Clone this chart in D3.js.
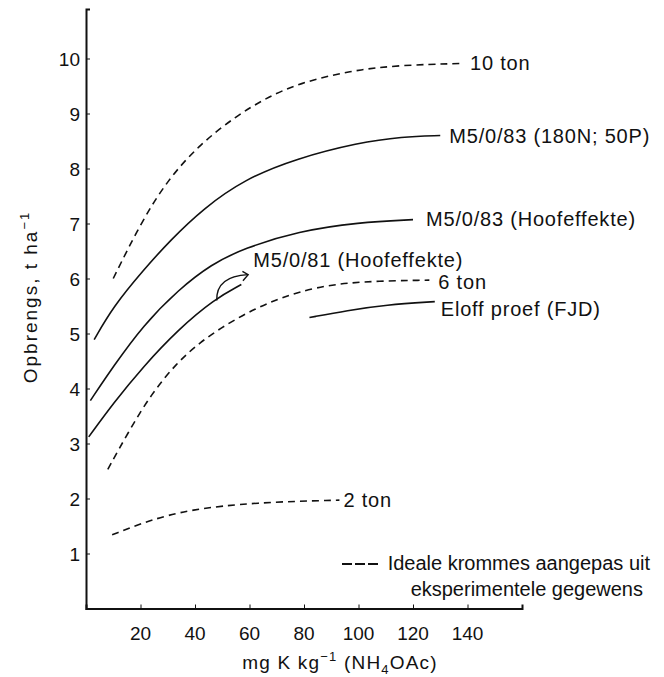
<!DOCTYPE html>
<html>
<head>
<meta charset="utf-8">
<script src="https://cdn.jsdelivr.net/npm/d3@7"></script>
<style>
  body { margin: 0; background: #fff; }
  text { font-family: 'Liberation Sans', Arial, sans-serif; fill: #111; }
</style>
</head>
<body>
<svg id="chart"></svg>
<script>
const width = 664;
const height = 677;

// x: mg K per kg (NH4OAc), y: opbrengs t/ha
const xTicks = [20, 40, 60, 80, 100, 120, 140];
const yTicks = [1, 2, 3, 4, 5, 6, 7, 8, 9, 10];

const tenTon = [[10,6.0],[20,7.0],[30,7.8],[42,8.45],[55,8.95],[66,9.28],[78,9.55],[97,9.78],[115,9.88],[138,9.91]];
const m583NP = [[3,4.89],[10,5.49],[21,6.15],[31,6.7],[43,7.27],[58,7.8],[77,8.18],[100,8.47],[116,8.58],[130,8.6]];
const m583H = [[1.6,3.78],[10,4.4],[21,5.15],[34,5.8],[46,6.26],[58,6.55],[78,6.86],[100,7.02],[120,7.07]];
const m581H = [[1,3.12],[10,3.73],[21,4.4],[34,5.08],[47,5.62],[57,5.89]];
const sixTon = [[8,2.53],[16,3.25],[24,3.9],[33,4.45],[42,4.85],[52,5.18],[62,5.45],[72,5.66],[84,5.84],[100,5.95],[126,5.97]];
const eloff = [[82,5.29],[96,5.42],[110,5.52],[128,5.58]];
const twoTon = [[9.6,1.34],[23,1.6],[38,1.8],[62,1.93],[93,1.97]];

// hook arrow from the M5/0/81 curve towards its label
const arrowCurve = [[48,5.6],[47.8,5.86],[51,6.05],[59.5,6.07]];
const arrowHead = [[57.4,6.13],[59.5,6.07],[57.6,5.96]];

const series = [
  { name: "10 ton", data: tenTon, dashed: true, dx: 8, dy: 7 },
  { name: "M5/0/83 (180N; 50P)", data: m583NP, dashed: false, dx: 9, dy: 7 },
  { name: "M5/0/83 (Hoofeffekte)", data: m583H, dashed: false, dx: 13, dy: 6 },
  { name: "M5/0/81 (Hoofeffekte)", data: m581H, dashed: false, dx: 12, dy: -18 },
  { name: "6 ton", data: sixTon, dashed: true, dx: 9, dy: 9 },
  { name: "Eloff proef (FJD)", data: eloff, dashed: false, dx: 6, dy: 14 },
  { name: "2 ton", data: twoTon, dashed: true, dx: 4, dy: 7 }
];

const x = d3.scaleLinear().domain([0, 160]).range([86, 522]);
const y = d3.scaleLinear().domain([0, 10.9]).range([608.5, 9]);

const svg = d3.select('#chart')
  .attr('width', width)
  .attr('height', height);

svg.append('rect').attr('width', width).attr('height', height).attr('fill', '#fff');

// axes
const yAxis = svg.append('g')
  .attr('transform', `translate(${x(0)},0)`)
  .call(d3.axisRight(y).tickValues(yTicks).tickSize(4).tickFormat(''));
yAxis.select('.domain').attr('stroke', '#111').attr('stroke-width', 2);
yAxis.selectAll('.tick line').attr('stroke', '#111');

const xAxis = svg.append('g')
  .attr('transform', `translate(0,${y(0)})`)
  .call(d3.axisTop(x).tickValues(xTicks).tickSize(4).tickFormat(''));
xAxis.select('.domain').attr('stroke', '#111').attr('stroke-width', 2);
xAxis.selectAll('.tick line').attr('stroke', '#111');

svg.append('g').selectAll('text')
  .data(yTicks)
  .enter().append('text')
    .attr('x', x(0) - 6)
    .attr('y', d => y(d) + 7)
    .attr('text-anchor', 'end')
    .attr('font-size', 19)
    .text(d => d);

svg.append('g').selectAll('text')
  .data(xTicks)
  .enter().append('text')
    .attr('x', d => x(d))
    .attr('y', y(0) + 31)
    .attr('text-anchor', 'middle')
    .attr('font-size', 19)
    .text(d => d);

// axis titles
const yTitle = svg.append('text')
  .attr('transform', 'translate(37,297) rotate(-90)')
  .attr('text-anchor', 'middle')
  .attr('letter-spacing', 2)
  .attr('font-size', 19);
yTitle.append('tspan').text('Opbrengs, t ha');
yTitle.append('tspan').attr('font-size', 13).attr('dy', -8).text('\u22121');

const xTitle = svg.append('text')
  .attr('x', 340)
  .attr('y', 669)
  .attr('text-anchor', 'middle')
  .attr('letter-spacing', 1.2)
  .attr('font-size', 19);
xTitle.append('tspan').text('mg K kg');
xTitle.append('tspan').attr('font-size', 13).attr('dy', -8).text('\u22121');
xTitle.append('tspan').attr('dy', 8).text(' (NH');
xTitle.append('tspan').attr('font-size', 13).attr('dy', 5).text('4');
xTitle.append('tspan').attr('dy', -5).text('OAc)');

// curves
const line = d3.line()
  .x(d => x(d[0]))
  .y(d => y(d[1]))
  .curve(d3.curveBasis);

svg.append('g').selectAll('path')
  .data(series)
  .enter().append('path')
    .attr('d', d => line(d.data))
    .attr('fill', 'none')
    .attr('stroke', '#111')
    .attr('stroke-width', 1.6)
    .attr('stroke-dasharray', d => d.dashed ? '7,5' : null);

svg.append('g').selectAll('text')
  .data(series)
  .enter().append('text')
    .attr('x', d => x(d.data[d.data.length - 1][0]) + d.dx)
    .attr('y', d => y(d.data[d.data.length - 1][1]) + d.dy)
    .attr('font-size', 20)
    .attr('letter-spacing', 0.8)
    .text(d => d.name);

// hook arrow
const p = arrowCurve.map(d => [x(d[0]), y(d[1])]);
svg.append('path')
  .attr('d', `M${p[0]}C${p[1]} ${p[2]} ${p[3]}`)
  .attr('fill', 'none')
  .attr('stroke', '#111')
  .attr('stroke-width', 1.4);
svg.append('path')
  .attr('d', d3.line().x(d => x(d[0])).y(d => y(d[1]))(arrowHead))
  .attr('fill', 'none')
  .attr('stroke', '#111')
  .attr('stroke-width', 1.4);

// legend
const legend = svg.append('g');
legend.append('line')
  .attr('x1', 342).attr('x2', 378)
  .attr('y1', 564).attr('y2', 564)
  .attr('stroke', '#111')
  .attr('stroke-width', 1.8)
  .attr('stroke-dasharray', '10,3');
legend.append('text')
  .attr('x', 650).attr('y', 570)
  .attr('text-anchor', 'end')
  .attr('font-size', 20)
  .text('Ideale krommes aangepas uit');
legend.append('text')
  .attr('x', 643).attr('y', 596)
  .attr('text-anchor', 'end')
  .attr('font-size', 20)
  .text('eksperimentele gegewens');
</script>
</body>
</html>
